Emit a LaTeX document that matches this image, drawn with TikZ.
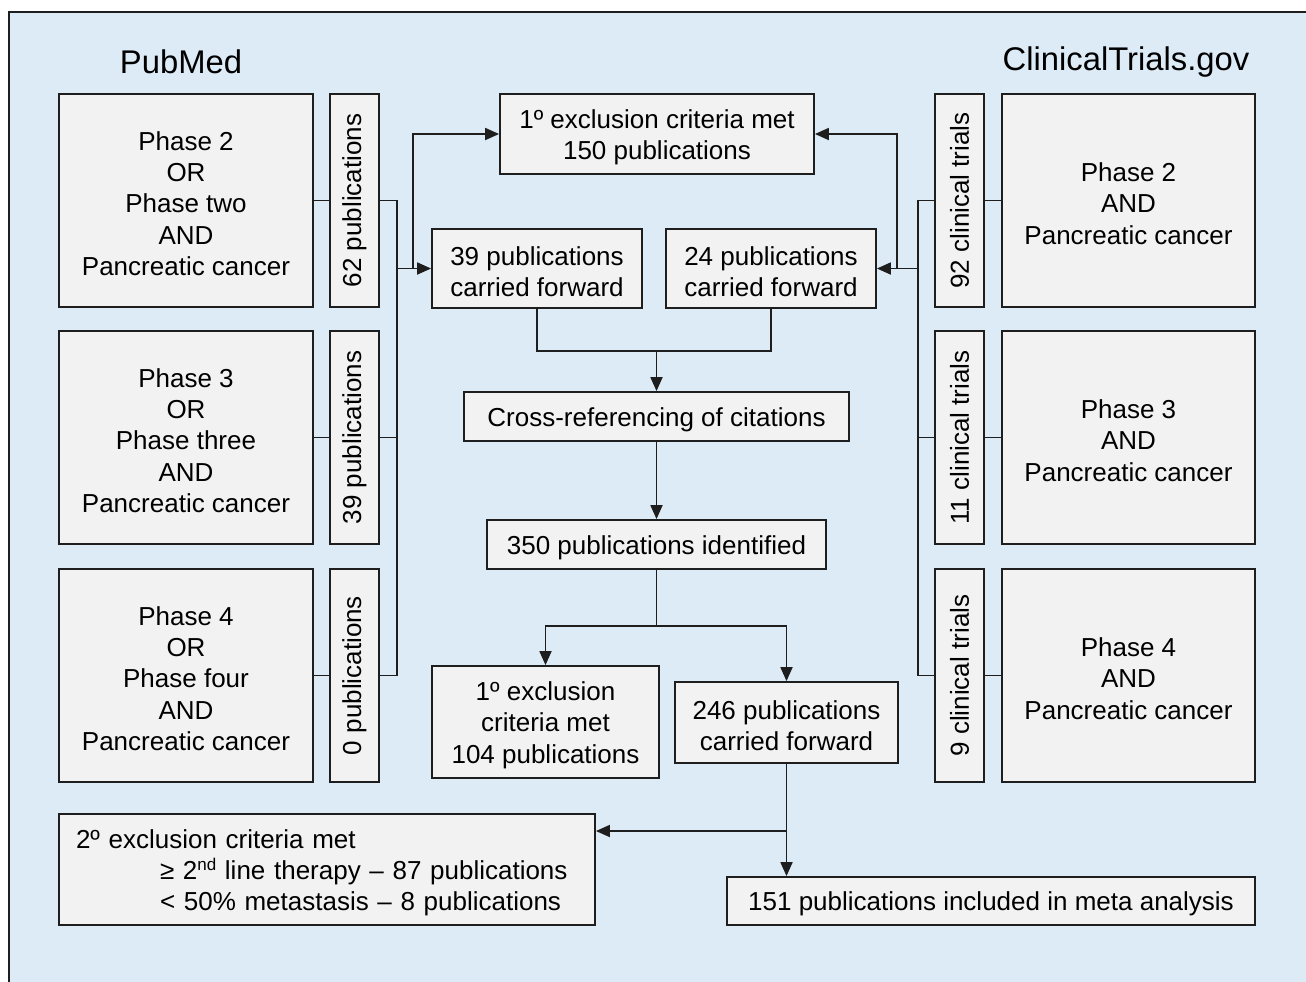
\documentclass[tikz,border=0pt]{standalone}
\usepackage{fontspec}
\setmainfont{Liberation Sans}
\usepackage{graphicx}
\usetikzlibrary{arrows.meta}
\definecolor{bgblue}{RGB}{221,235,247}
\definecolor{boxfill}{RGB}{242,242,242}
\definecolor{linecol}{RGB}{30,30,30}
\newcommand\mybox[7]{%
  \pgfmathsetmacro\bw{(#5-#3)*0.5}%
  \pgfmathsetmacro\bh{(#6-#4)*0.5}%
  \node[box,minimum width=\bw pt,minimum height=\bh pt,#1] (#2) at ({(#3+#5)/2},{(#4+#6)/2}) {\rule{0pt}{12.6pt}#7};}
\newcommand\supnd{\raisebox{4.5pt}{\fontsize{8.5}{8.5}\selectfont nd}}
\newcommand\indline[1]{\makebox[0pt][l]{\hspace*{42pt}#1}}
\begin{document}
\begin{tikzpicture}[x=0.5pt,y=-0.5pt,
  box/.style={draw=linecol,fill=boxfill,line width=0.9pt,inner sep=0pt,align=center,
    font=\fontsize{13}{15.6}\selectfont},
  title/.style={font=\fontsize{16.4}{19}\selectfont,inner sep=0pt},
  conn/.style={draw=linecol,line width=0.9pt},
  arr/.style={conn,-{Triangle[length=7pt,width=6pt]}}]
\useasboundingbox (0,0) rectangle (1306,981);
\begin{scope}
\clip (0,0) rectangle (1306,981);
\draw[fill=bgblue,draw=linecol,line width=0.9pt] (9,12) rectangle (1330,1000);
\end{scope}
\node[title] (pm) at (181,62) {PubMed};
\node[title] (ct) at (1126,62) {ClinicalTrials.gov};
% left search boxes
\mybox{}{s1}{59}{94}{313}{307}{Phase 2\\OR\\Phase two\\AND\\Pancreatic cancer}
\mybox{}{s2}{59}{331}{313}{544}{Phase 3\\OR\\Phase three\\AND\\Pancreatic cancer}
\mybox{}{s3}{59}{569}{313}{782}{Phase 4\\OR\\Phase four\\AND\\Pancreatic cancer}
\mybox{}{c1}{330}{94}{379}{307}{\rotatebox{90}{62 publications}}
\mybox{}{c2}{330}{331}{379}{544}{\rotatebox{90}{39 publications}}
\mybox{}{c3}{330}{569}{379}{782}{\rotatebox{90}{0 publications}}
% right
\mybox{}{r1}{1002}{94}{1255}{307}{Phase 2\\AND\\Pancreatic cancer}
\mybox{}{r2}{1002}{331}{1255}{544}{Phase 3\\AND\\Pancreatic cancer}
\mybox{}{r3}{1002}{569}{1255}{782}{Phase 4\\AND\\Pancreatic cancer}
\mybox{}{d1}{935}{94}{984}{307}{\rotatebox{90}{92 clinical trials}}
\mybox{}{d2}{935}{331}{984}{544}{\rotatebox{90}{11 clinical trials}}
\mybox{}{d3}{935}{569}{984}{782}{\rotatebox{90}{9 clinical trials}}
% center
\mybox{}{top}{500}{94}{814}{174}{1º exclusion criteria met\\150 publications}
\mybox{}{b39}{432}{229}{642}{308}{39 publications\\carried forward}
\mybox{}{b24}{666}{229}{876}{308}{24 publications\\carried forward}
\mybox{}{cross}{464}{392}{849}{441}{Cross-referencing of citations}
\mybox{}{ident}{487}{520}{826}{569}{350 publications identified}
\mybox{}{ex}{432}{666}{659}{778}{1º exclusion\\criteria met\\104 publications}
\mybox{}{f246}{675}{682}{898}{763}{246 publications\\carried forward}
\mybox{align=left,text width=251pt,inner xsep=8.5pt}{sec}{59}{814}{595}{925}{\makebox[0pt][l]{2º exclusion criteria met}\\
\indline{≥ 2\supnd\ line therapy – 87 publications}\\
\indline{< 50\% metastasis – 8 publications}}
\mybox{}{fin}{727}{877}{1255}{925}{151 publications included in meta analysis}
% left connectors
\coordinate (lt) at (397,200.5);
\coordinate (lb) at (397,675.5);
\coordinate (ls) at (413,268.5);
\draw[conn] (s1.east) -- (c1.west);
\draw[conn] (s2.east) -- (c2.west);
\draw[conn] (s3.east) -- (c3.west);
\draw[conn] (c1.east) -- (lt) -- (lb) -- (c3.east);
\draw[conn] (c2.east) -- (c2.east -| lt);
\draw[arr] (lt |- b39.west) -- (b39.west);
\draw[arr] (ls) |- (top.west);
% right connectors
\coordinate (rt) at (918,200.5);
\coordinate (rb) at (918,675.5);
\coordinate (rs) at (897,268.5);
\draw[conn] (d1.east) -- (r1.west);
\draw[conn] (d2.east) -- (r2.west);
\draw[conn] (d3.east) -- (r3.west);
\draw[conn] (d1.west) -- (rt) -- (rb) -- (d3.west);
\draw[conn] (d2.west) -- (d2.west -| rt);
\draw[arr] (rt |- b24.east) -- (b24.east);
\draw[arr] (rs) |- (top.east);
% middle flow
\coordinate (mg) at (656.5,351);
\draw[conn] (b39.south) |- (mg) -| (b24.south);
\draw[arr] (mg) -- (cross.north);
\draw[arr] (cross.south) -- (ident.north);
\coordinate (sp) at (656.5,626);
\draw[conn] (ident.south) -- (sp);
\draw[arr] (sp) -| (ex.north);
\draw[arr] (sp) -| (f246.north);
\draw[arr] (f246.south) -- (f246.south |- fin.north);
\coordinate (br) at (786.5,831);
\draw[arr] (br) -- (br -| sec.east);
\end{tikzpicture}
\end{document}
